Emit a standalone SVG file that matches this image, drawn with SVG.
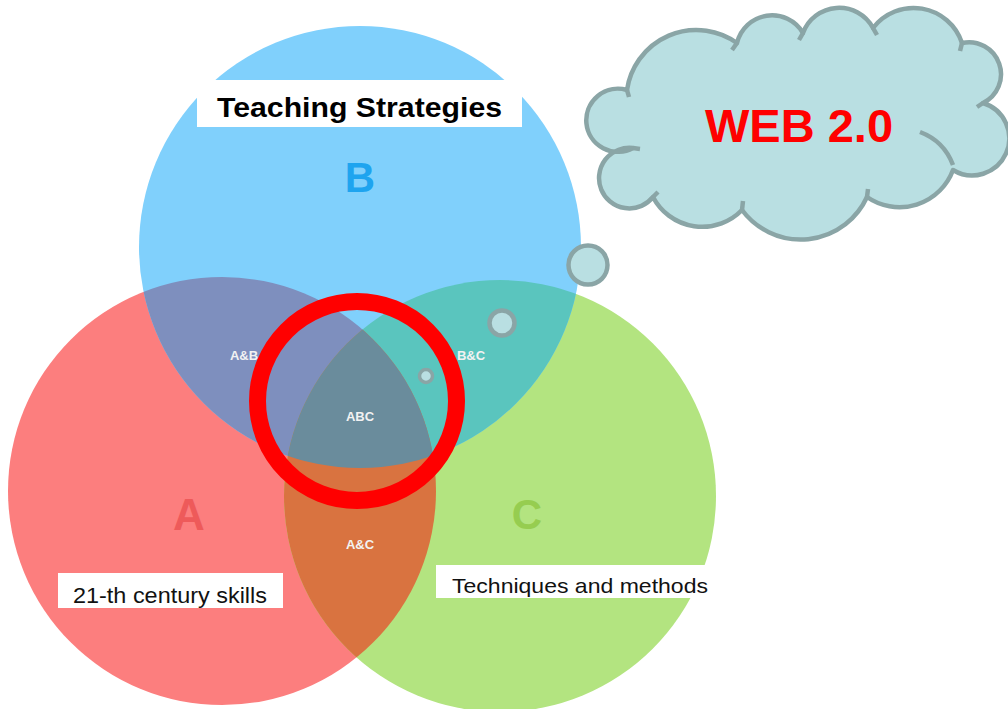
<svg xmlns="http://www.w3.org/2000/svg" width="1008" height="709" viewBox="0 0 1008 709">
  <defs>
    <style>
      .lbl { font-family: "Liberation Sans", Arial, sans-serif; }
      .inter { font-family: "Liberation Sans", Arial, sans-serif; font-weight: bold; font-size: 13px; fill: #f2f2f2; text-anchor: middle; }
      .big { font-family: "Liberation Sans", Arial, sans-serif; font-weight: bold; text-anchor: middle; }
      .bubble { fill: #b9dfe2; stroke: #8aa5a6; }
      .box { fill: #ffffff; }
    </style>
    <clipPath id="clipA"><circle cx="222" cy="491" r="214"/></clipPath>
    <clipPath id="clipB"><circle cx="360" cy="247" r="221"/></clipPath>
    <clipPath id="clipC"><circle cx="500" cy="496" r="216"/></clipPath>
  </defs>
  <rect width="1008" height="709" fill="#ffffff"/>

  <g id="circleA">
    <circle cx="222" cy="491" r="214" fill="#fc7e7e"/>
  </g>
  <g id="circleC">
    <circle cx="500" cy="496" r="216" fill="#b3e480"/>
  </g>
  <g id="circleB">
    <circle cx="360" cy="247" r="221" fill="#80d0fc"/>
  </g>
  <g id="AandB">
    <g clip-path="url(#clipA)"><circle cx="360" cy="247" r="221" fill="#7e8fbe"/></g>
  </g>
  <g id="BandC">
    <g clip-path="url(#clipC)"><circle cx="360" cy="247" r="221" fill="#5ac5be"/></g>
  </g>
  <g id="AandC">
    <g clip-path="url(#clipA)"><circle cx="500" cy="496" r="216" fill="#d97340"/></g>
  </g>
  <g id="ABC">
    <g clip-path="url(#clipA)"><g clip-path="url(#clipB)"><circle cx="500" cy="496" r="216" fill="#6a8c9c"/></g></g>
  </g>

  <g id="labels">
    <text class="big" x="360" y="192" font-size="42" fill="#1ea4ef">B</text>
    <text class="big" x="189" y="530" font-size="44" fill="#ee5a5a">A</text>
    <text class="big" x="527" y="529" font-size="42" fill="#96cd50">C</text>
    <text class="inter" x="244" y="360">A&amp;B</text>
    <text class="inter" x="471" y="360">B&amp;C</text>
    <text class="inter" x="360" y="421">ABC</text>
    <text class="inter" x="360" y="549">A&amp;C</text>
  </g>

  <g id="boxB">
    <rect class="box" x="197" y="80" width="325" height="47"/>
    <text class="lbl" x="359.5" y="117" font-size="27" font-weight="bold" text-anchor="middle" textLength="285" lengthAdjust="spacingAndGlyphs" fill="#000">Teaching Strategies</text>
  </g>
  <g id="boxA">
    <rect class="box" x="58" y="573" width="225" height="35"/>
    <text class="lbl" x="73" y="603" font-size="22" textLength="194" lengthAdjust="spacingAndGlyphs" fill="#111">21-th century skills</text>
  </g>
  <g id="boxC">
    <rect class="box" x="436" y="565" width="277" height="33"/>
    <text class="lbl" x="452" y="593" font-size="21" textLength="256" lengthAdjust="spacingAndGlyphs" fill="#111">Techniques and methods</text>
  </g>

  <g id="ring">
    <circle cx="357" cy="401" r="99.5" fill="none" stroke="#ff0000" stroke-width="17"/>
  </g>

  <g id="connectors">
    <circle class="bubble" cx="426" cy="376" r="6.5" stroke-width="3.5"/>
    <circle class="bubble" cx="502" cy="323" r="12.5" stroke-width="4.5"/>
    <circle class="bubble" cx="588" cy="265" r="19.5" stroke-width="4.5"/>
  </g>

  <g id="cloud">
    <path class="bubble" stroke-width="4.5" stroke-linejoin="round" d="M633,148 A31.6,31.6 0 1 1 627,90 A70,70 0 0 1 737,43 A36,36 0 0 1 803,33 A38.5,38.5 0 0 1 873,28 A51,51 0 0 1 962,43 A32,32 0 0 1 983,103 A37,37 0 1 1 953,170 A57,57 0 0 1 867,197 A73,73 0 0 1 742,210 A55.5,55.5 0 0 1 653,197 A30.3,30.3 0 1 1 633,148 Z"/>
    <g fill="none" stroke="#8aa5a6" stroke-width="4.5" stroke-linecap="butt">
      <path d="M627,90 L629,97"/>
      <path d="M737,43 L732,50"/>
      <path d="M803,33 L799,40"/>
      <path d="M873,28 L877,35"/>
      <path d="M962,43 L960,51"/>
      <path d="M983,103 L977,107"/>
      <path d="M920,132 Q944,141 953,165"/>
      <path d="M867,197 L868,189"/>
      <path d="M742,210 L743,201"/>
      <path d="M653,197 L658,192"/>
      <path d="M633,148 L640,149"/>
    </g>
    <text class="big" x="799" y="142" font-size="47" fill="#ff0000">WEB 2.0</text>
  </g>
</svg>
